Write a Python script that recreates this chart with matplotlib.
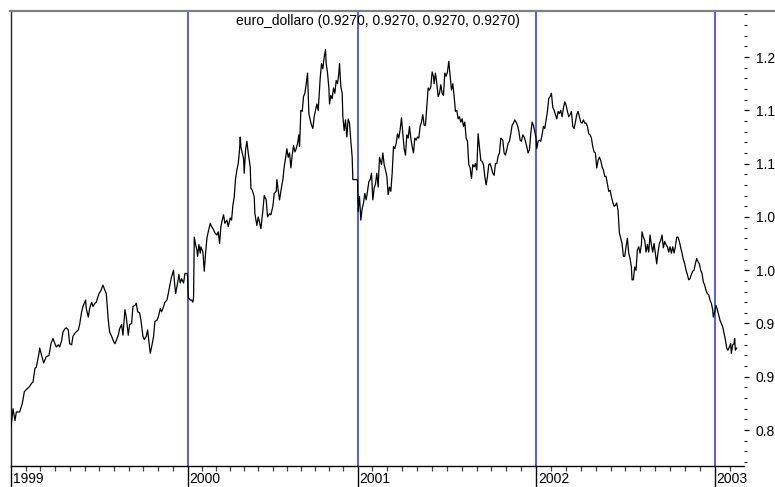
import matplotlib
matplotlib.use("Agg")
import matplotlib.pyplot as plt
import numpy as np
from matplotlib.lines import Line2D
from matplotlib.ticker import FixedLocator

plt.rcParams['font.family'] = ['Liberation Sans', 'DejaVu Sans']

# trading session index (0 = first session of 1999) and euro_dollaro rate
day = [
    0, 3, 6, 8, 13, 17, 20, 23, 28, 31, 33, 36, 38, 42, 43, 46, 49, 53, 57, 60,
    63, 66, 68, 71, 73, 76, 78, 81, 83, 86, 88, 91, 93, 96, 101, 103, 106, 108, 112, 113,
    116, 118, 121, 123, 126, 128, 132, 135, 138, 141, 143, 146, 148, 151, 154, 156, 158, 161, 163, 166,
    168, 171, 173, 176, 178, 181, 183, 186,
    188, 190, 193, 195, 198, 200, 203, 205, 207, 209, 211, 214, 216, 219, 221, 224, 226, 229, 231, 234,
    236, 239, 241, 244, 245, 247, 250, 252, 254, 256, 259, 261, 264, 265, 266, 269, 271, 273, 274, 275,
    277, 279, 280, 282, 284, 285, 288, 290, 292, 294, 296, 299, 301, 304, 306, 309, 311, 313, 315, 317,
    319, 321, 324, 326, 329, 331, 333, 335, 337, 339, 341, 343, 344, 345, 347, 349, 350, 352, 354, 356,
    359, 360, 362, 365, 366, 369, 371,
    373, 375, 378, 380, 383, 385, 388, 390, 393, 395, 398, 399, 401, 403, 406, 408, 410, 412, 414, 416,
    418, 420, 422, 424, 426, 428, 430, 432, 433, 435, 437, 439, 441, 443, 445, 447, 449, 451, 453, 455,
    457, 459, 461, 463, 464, 466, 468, 470, 472, 473, 475, 477, 478, 480, 482, 484, 486, 488, 490, 492,
    493, 495, 497, 498, 500, 502, 504, 506, 508, 510, 512, 513, 517, 520, 521, 523, 525, 527, 529, 531,
    533, 535, 537, 539, 541, 543, 545, 547, 549, 551, 553,
    556, 558, 560, 562, 564, 566, 568, 570, 572, 574, 576, 578, 580, 582, 584, 586, 588, 590, 592, 594,
    596, 598, 600, 602, 604, 606, 608, 610, 612, 614, 616, 618, 620, 622, 624, 626, 628, 630, 632, 634,
    635, 637, 639, 641, 643, 645, 647, 649, 651, 653, 655, 657, 659, 661, 663, 665, 667, 669, 671, 673,
    675, 677, 679, 681, 683, 685, 687, 689, 691, 693, 695, 697, 699, 701, 703, 705, 707, 709, 711, 713,
    715, 717, 719, 721, 723, 725, 727, 729, 731, 733, 735,
    738, 740, 742, 744, 746, 748, 750, 752, 754, 756, 758, 760, 762, 764, 766, 768, 770, 772, 774, 776,
    778, 780, 782, 784, 786, 788, 789, 791, 793, 795, 797, 799, 801, 803, 805, 807, 809, 811, 813, 815,
    817, 819, 821, 823, 825, 827, 829, 831, 833, 835, 837, 839, 841, 843, 845, 847, 849, 851, 853, 855,
    857, 859, 861, 863, 865, 867, 869, 871, 873, 875, 877, 879, 881, 883, 885, 887, 889, 891, 893, 895,
    897, 899, 901, 903, 905, 907, 909, 911, 913, 915, 917, 919,
    921, 923, 925, 927, 929, 931, 932, 934, 936, 938, 940, 942, 944, 946, 947, 949, 951, 953, 955, 957,
    959, 961, 963, 965, 967, 969, 971, 973, 975, 977, 979, 981, 983, 985, 987, 989, 991, 993, 995, 997,
    999, 1001, 1003, 1005, 1007, 1009, 1011, 1013, 1015, 1017, 1019, 1021, 1023, 1025, 1027, 1029, 1031, 1033, 1035, 1037,
    1039, 1041, 1043, 1045, 1047, 1049, 1051, 1053, 1054, 1056, 1058, 1060, 1062, 1064, 1066, 1068, 1070, 1072, 1074, 1076,
    1078, 1080, 1081, 1083, 1085, 1086, 1087, 1089,
]
rate = [
    0.853, 0.870, 0.859, 0.867, 0.867, 0.875, 0.886, 0.888, 0.891, 0.894, 0.895, 0.908, 0.909, 0.922, 0.927, 0.920, 0.913, 0.919, 0.920, 0.931,
    0.936, 0.931, 0.928, 0.930, 0.928, 0.934, 0.942, 0.945, 0.946, 0.944, 0.931, 0.930, 0.938, 0.941, 0.944, 0.949, 0.961, 0.966, 0.972, 0.964,
    0.956, 0.964, 0.970, 0.966, 0.969, 0.970, 0.978, 0.981, 0.986, 0.981, 0.978, 0.953, 0.942, 0.938, 0.933, 0.931, 0.934, 0.939, 0.945, 0.949,
    0.939, 0.963, 0.956, 0.939, 0.949, 0.950, 0.966, 0.967,
    0.969, 0.961, 0.960, 0.953, 0.938, 0.935, 0.938, 0.944, 0.933, 0.922, 0.928, 0.938, 0.952, 0.953, 0.956, 0.964, 0.961, 0.966, 0.970, 0.972,
    0.978, 0.988, 0.994, 1.000, 0.991, 0.978, 0.988, 0.996, 0.988, 0.992, 0.988, 0.997, 0.997, 0.994, 0.974, 0.972, 0.972, 0.970, 0.975, 1.031,
    1.024, 1.019, 1.013, 1.024, 1.016, 1.022, 1.017, 0.999, 1.016, 1.030, 1.036, 1.044, 1.041, 1.038, 1.035, 1.033, 1.036, 1.025, 1.041, 1.047,
    1.052, 1.044, 1.047, 1.041, 1.049, 1.047, 1.061, 1.069, 1.086, 1.094, 1.100, 1.113, 1.125, 1.116, 1.110, 1.105, 1.091, 1.113, 1.121, 1.110,
    1.097, 1.077, 1.075, 1.069, 1.053, 1.042, 1.050,
    1.045, 1.039, 1.056, 1.070, 1.066, 1.050, 1.053, 1.052, 1.060, 1.072, 1.074, 1.085, 1.075, 1.066, 1.078, 1.085, 1.097, 1.105, 1.114, 1.106,
    1.110, 1.096, 1.108, 1.117, 1.111, 1.114, 1.119, 1.127, 1.116, 1.150, 1.149, 1.163, 1.166, 1.175, 1.185, 1.147, 1.141, 1.136, 1.133, 1.144,
    1.150, 1.156, 1.150, 1.169, 1.180, 1.194, 1.189, 1.200, 1.207, 1.194, 1.185, 1.171, 1.156, 1.164, 1.161, 1.171, 1.166, 1.178, 1.175, 1.185,
    1.194, 1.172, 1.166, 1.144, 1.131, 1.141, 1.125, 1.142, 1.138, 1.121, 1.106, 1.085, 1.085, 1.085, 1.055, 1.069, 1.047, 1.058, 1.063, 1.072,
    1.066, 1.074, 1.083, 1.085, 1.091, 1.066, 1.077, 1.081, 1.091, 1.078, 1.106,
    1.099, 1.110, 1.099, 1.094, 1.088, 1.071, 1.078, 1.074, 1.091, 1.116, 1.114, 1.119, 1.128, 1.124, 1.132, 1.143, 1.128, 1.114, 1.108, 1.127,
    1.124, 1.135, 1.124, 1.116, 1.110, 1.124, 1.122, 1.125, 1.124, 1.135, 1.139, 1.146, 1.136, 1.136, 1.153, 1.171, 1.169, 1.172, 1.186, 1.182,
    1.175, 1.185, 1.175, 1.163, 1.166, 1.174, 1.166, 1.164, 1.185, 1.182, 1.186, 1.196, 1.182, 1.169, 1.175, 1.163, 1.149, 1.150, 1.142, 1.144,
    1.139, 1.142, 1.135, 1.139, 1.124, 1.121, 1.099, 1.096, 1.086, 1.099, 1.097, 1.100, 1.094, 1.128, 1.116, 1.103, 1.102, 1.099, 1.088, 1.080,
    1.088, 1.099, 1.100, 1.096, 1.091, 1.089, 1.100, 1.100, 1.107, 1.110, 1.124,
    1.122, 1.110, 1.108, 1.113, 1.119, 1.121, 1.128, 1.136, 1.138, 1.141, 1.139, 1.136, 1.131, 1.122, 1.121, 1.127, 1.125, 1.121, 1.116, 1.110,
    1.113, 1.128, 1.139, 1.136, 1.130, 1.124, 1.114, 1.121, 1.122, 1.121, 1.127, 1.135, 1.133, 1.141, 1.149, 1.161, 1.163, 1.166, 1.153, 1.150,
    1.146, 1.142, 1.149, 1.147, 1.150, 1.144, 1.152, 1.158, 1.155, 1.149, 1.144, 1.146, 1.149, 1.135, 1.133, 1.139, 1.146, 1.149, 1.144, 1.139,
    1.138, 1.141, 1.138, 1.138, 1.135, 1.128, 1.127, 1.124, 1.116, 1.111, 1.110, 1.096, 1.103, 1.106, 1.103, 1.097, 1.094, 1.088, 1.088, 1.081,
    1.074, 1.075, 1.069, 1.064, 1.060, 1.061, 1.063, 1.056, 1.035, 1.030, 1.025, 1.013,
    1.013, 1.022, 1.030, 1.016, 1.011, 1.003, 0.991, 0.991, 1.003, 1.000, 1.019, 1.022, 1.016, 1.024, 1.036, 1.031, 1.028, 1.017, 1.024, 1.017,
    1.033, 1.024, 1.017, 1.025, 1.016, 1.006, 1.017, 1.025, 1.028, 1.033, 1.021, 1.027, 1.024, 1.022, 1.017, 1.022, 1.016, 1.022, 1.016, 1.022,
    1.031, 1.031, 1.027, 1.021, 1.016, 1.010, 1.006, 1.000, 0.996, 0.991, 0.992, 0.996, 0.999, 1.000, 1.006, 1.011, 1.008, 1.006, 1.000, 0.997,
    0.989, 0.986, 0.981, 0.978, 0.977, 0.972, 0.969, 0.963, 0.956, 0.961, 0.967, 0.963, 0.958, 0.953, 0.950, 0.947, 0.941, 0.935, 0.927, 0.925,
    0.928, 0.931, 0.922, 0.930, 0.931, 0.936, 0.925, 0.927,
]

# first session of each year
year_start = [0, 265, 520, 788, 1056]
year_labels = ['1999', '2000', '2001', '2002', '2003']

rate_ticks = [0.85, 0.90, 0.95, 1.00, 1.05, 1.10, 1.15, 1.20]
rate_labels = ['0.8', '0.9', '0.9', '1.0', '1.0', '1.1', '1.1', '1.2']

last = rate[-1]
title = f"euro_dollaro ({last:.4f}, {last:.4f}, {last:.4f}, {last:.4f})"

W, H = 775, 487
fig = plt.figure(figsize=(W / 100, H / 100), dpi=100)
ax = fig.add_axes([11 / W, 21 / H, 733 / W, 455 / H])

ax.plot(day, rate, color='black', lw=0.9, zorder=3)
for d in year_start[1:]:
    ax.axvline(d, color='#2a2aff', lw=1.1, zorder=2)

ax.set_xlim(0, 1100)
ax.set_ylim(0.8163, 1.2432)

# monthly minor ticks between year starts
months = []
bounds = year_start + [year_start[-1] + (year_start[-1] - year_start[-2])]
for a, b in zip(bounds[:-1], bounds[1:]):
    months += list(np.linspace(a, b, 13)[1:-1])
months = [m for m in months if m <= 1100]
ax.xaxis.set_major_locator(FixedLocator(year_start))
ax.xaxis.set_minor_locator(FixedLocator(months))
ax.set_xticklabels([''] * len(year_start))
ax.tick_params(axis='x', which='major', length=15, width=1.0, color='black')
ax.tick_params(axis='x', which='minor', length=3.5, width=0.9, color='#444444')
for d, lab in zip(year_start, year_labels):
    ax.annotate(lab, xy=(d, 0), xycoords=('data', 'axes fraction'),
                xytext=(2, -13), textcoords='offset pixels',
                ha='left', va='center', fontsize=10, annotation_clip=False)

ax.yaxis.tick_right()
ax.set_yticks(rate_ticks)
ax.set_yticklabels(rate_labels)
ax.yaxis.set_minor_locator(FixedLocator(np.arange(82, 125) / 100))
ax.tick_params(axis='y', which='major', length=3.5, width=0.9, pad=5, labelsize=10)
ax.tick_params(axis='y', which='minor', length=2.5, width=0.9, color='#333333')

ax.spines['top'].set_visible(False)
ax.spines['right'].set_visible(False)
ax.spines['left'].set_color('#222222')
ax.spines['left'].set_linewidth(1.0)
ax.spines['bottom'].set_linewidth(1.0)

# grey frame line across the top of the panel
fig.add_artist(Line2D([10 / W, 1.0], [1 - 11 / H, 1 - 11 / H], color='#808080', lw=1.6))

ax.text(0.5, 1 - 10 / 455, title, transform=ax.transAxes,
        ha='center', va='center', fontsize=10)

fig.savefig('out.png', dpi=100)
